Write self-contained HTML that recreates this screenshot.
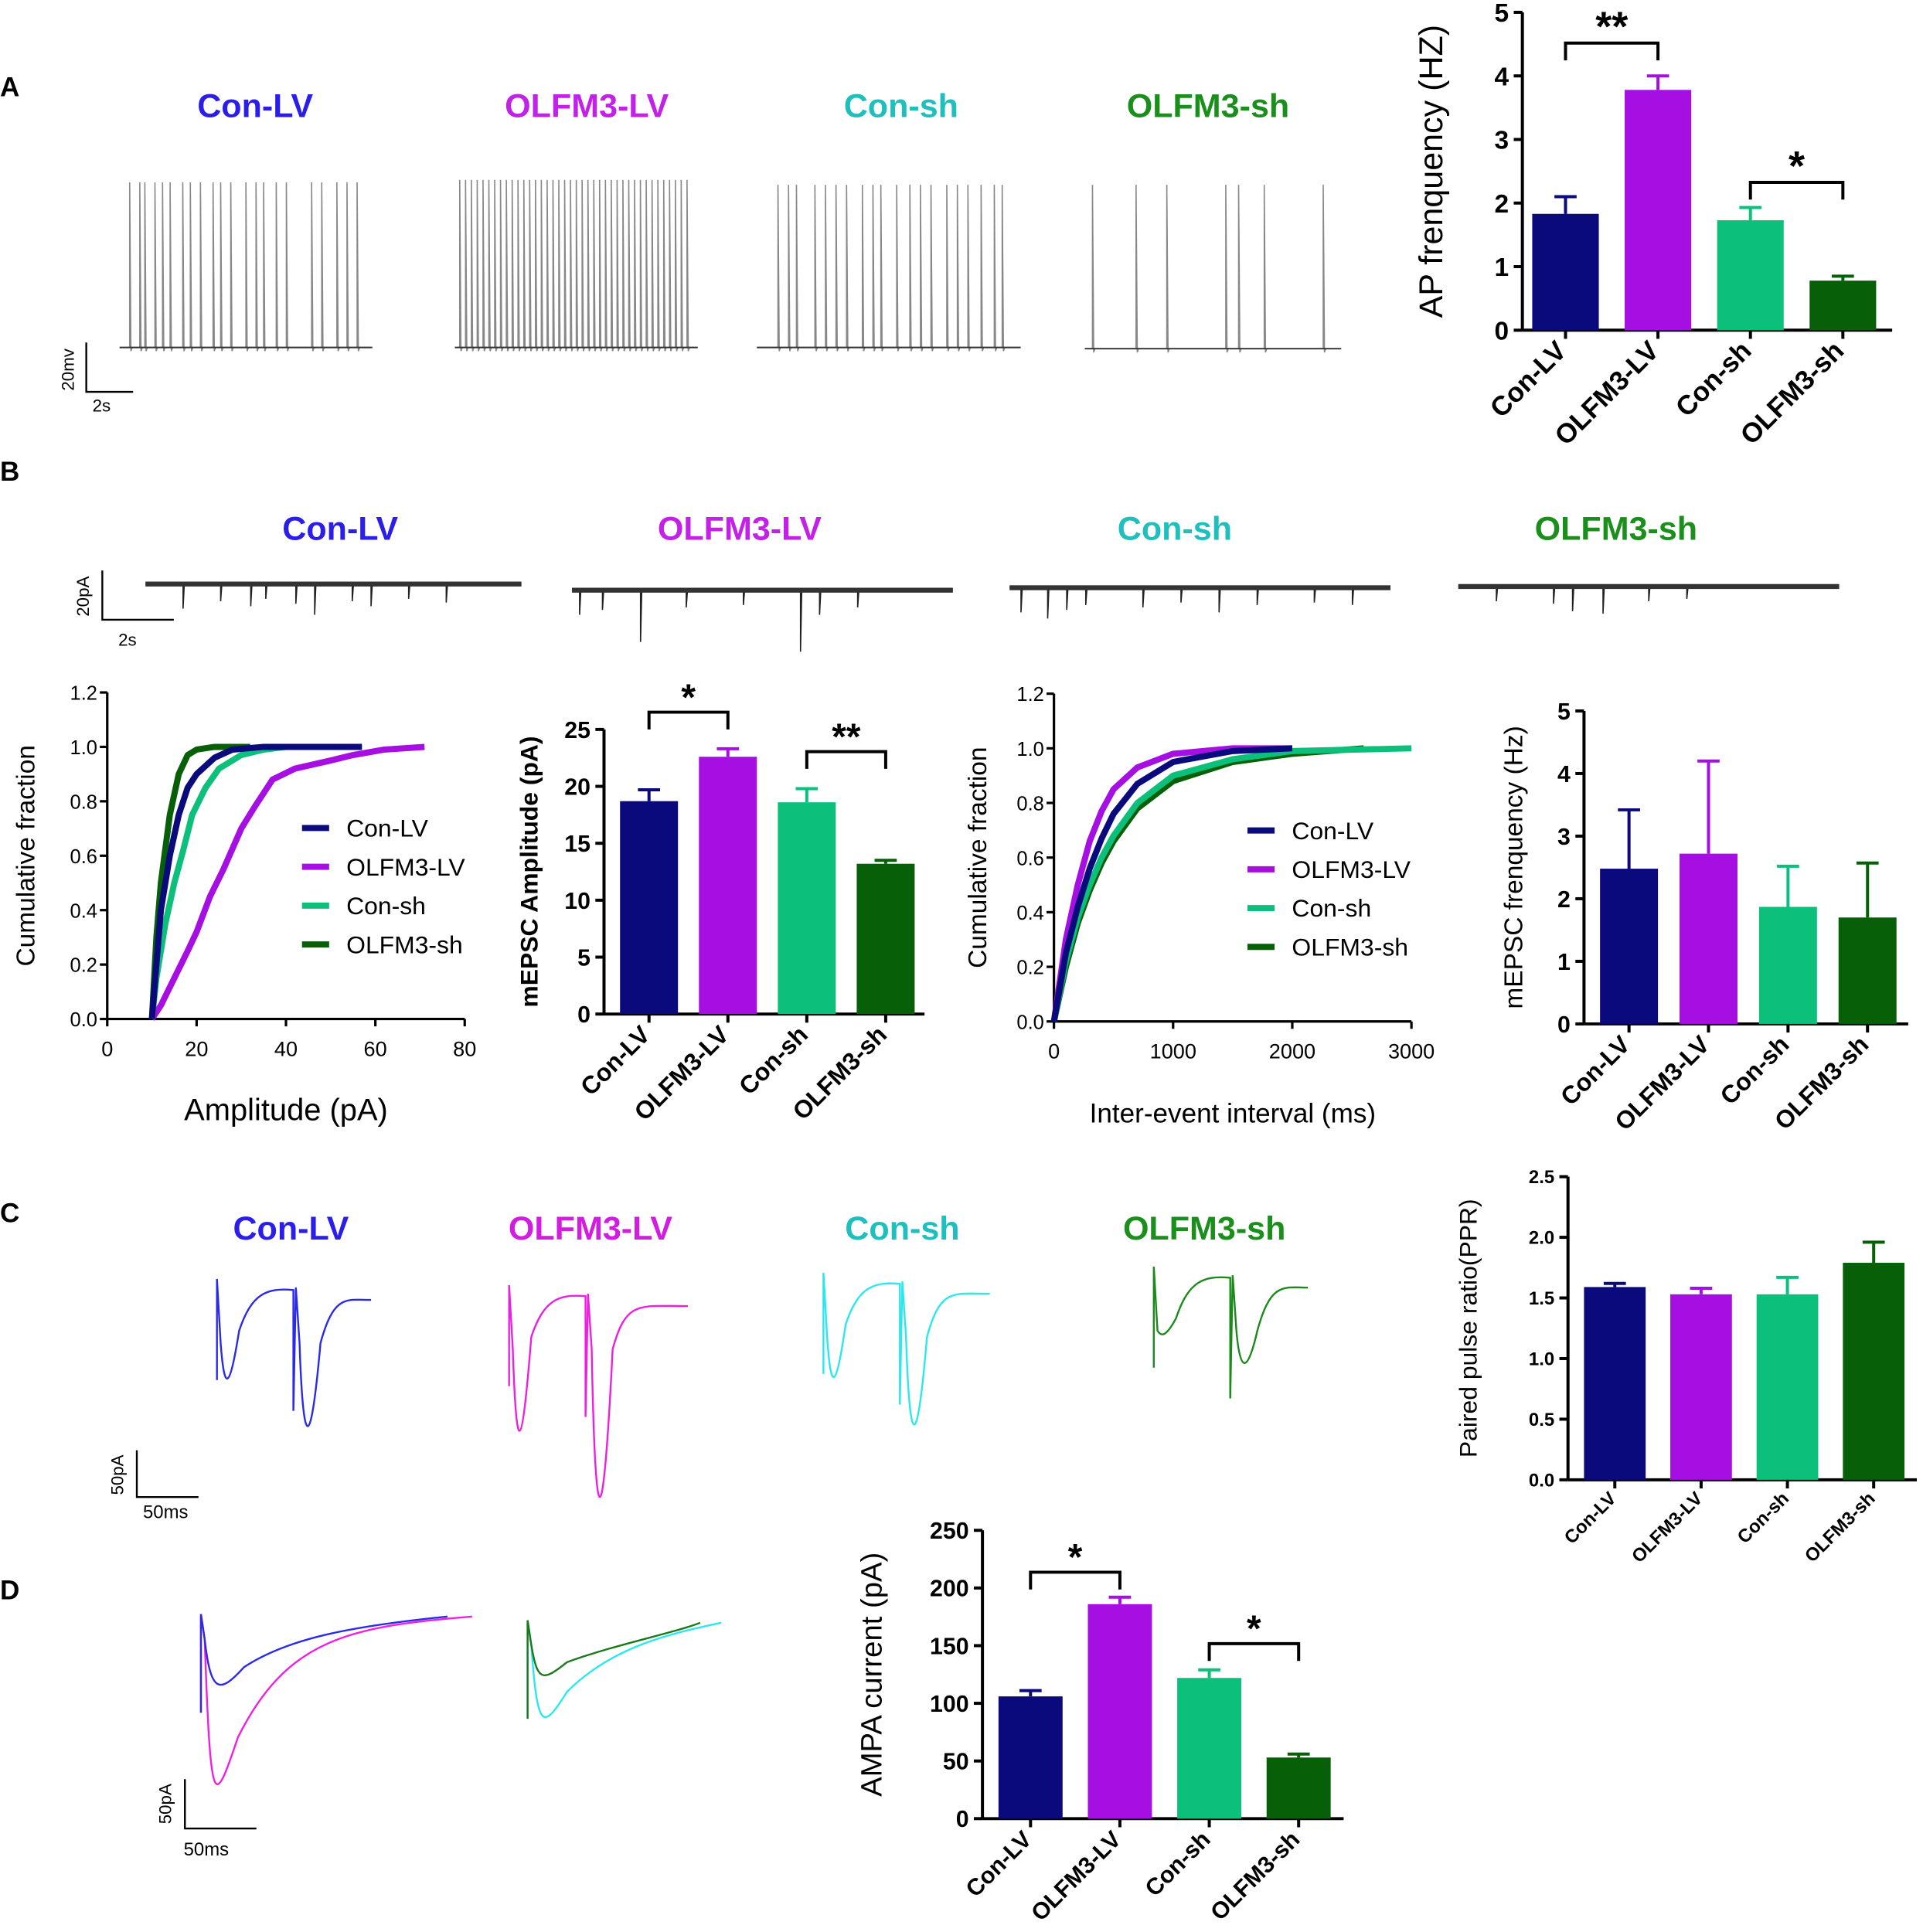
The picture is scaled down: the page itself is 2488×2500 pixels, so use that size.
<!DOCTYPE html>
<html><head><meta charset="utf-8"><style>
html,body{margin:0;padding:0;background:#fff;}
svg{display:block;font-family:"Liberation Sans",sans-serif;}
</style></head><body>
<svg id="fig" width="2488" height="2500" viewBox="0 0 1560 1568" preserveAspectRatio="none" xmlns="http://www.w3.org/2000/svg"></svg>
<script>
// ---- data ----
const groups = ["Con-LV","OLFM3-LV","Con-sh","OLFM3-sh"];
const colors = ["#0a0a7c","#a60fe2","#0cc07c","#075f07"];
const apFreq = [1.83,3.78,1.73,0.78];
const apFreqErr = [2.1,4.0,1.93,0.85];
const ampVals = [18.7,22.6,18.6,13.2];
const ampErr = [19.7,23.3,19.8,13.5];
const mFreqVals = [2.48,2.72,1.87,1.7];
const mFreqErr = [3.42,4.2,2.52,2.57];
const pprVals = [1.59,1.53,1.53,1.79];
const pprErr = [1.62,1.58,1.67,1.96];
const ampaVals = [106,186,122,53];
const ampaErr = [111,192,129,56];
const cumAmp = [
 [[10,0],[11,0.2],[12,0.4],[14,0.6],[16,0.75],[18,0.85],[20,0.9],[24,0.96],[28,0.99],[35,1],[57,1]],
 [[10,0],[12,0.05],[15,0.15],[18,0.25],[20,0.32],[23,0.45],[26,0.55],[30,0.7],[33,0.78],[37,0.88],[42,0.92],[50,0.95],[55,0.97],[62,0.99],[71,1]],
 [[10,0],[11,0.15],[13,0.35],[15,0.5],[17,0.62],[19,0.75],[22,0.85],[25,0.92],[30,0.97],[35,0.99],[40,1],[52,1]],
 [[10,0],[11,0.3],[12,0.5],[14,0.75],[16,0.9],[18,0.97],[20,0.99],[24,1],[32,1]]
];
const cumInt = [
 [[0,0],[100,0.25],[200,0.42],[300,0.56],[400,0.67],[500,0.76],[700,0.87],[1000,0.95],[1500,0.99],[2000,1]],
 [[0,0],[100,0.3],[200,0.5],[300,0.66],[400,0.77],[500,0.85],[700,0.93],[1000,0.98],[1500,1],[2000,1]],
 [[0,0],[100,0.22],[200,0.38],[300,0.5],[400,0.6],[500,0.68],[700,0.8],[1000,0.9],[1500,0.96],[2000,0.99],[3000,1]],
 [[0,0],[100,0.2],[200,0.36],[300,0.48],[400,0.58],[500,0.66],[700,0.78],[1000,0.88],[1500,0.95],[2000,0.98],[2600,1]]
];
const cumTicksY = ["0.0","0.2","0.4","0.6","0.8","1.0","1.2"];

// ---- helpers ----
const NS="http://www.w3.org/2000/svg";
const svg=document.getElementById('fig');
function el(tag,attrs,parent,txt){const e=document.createElementNS(NS,tag);for(const k in attrs)e.setAttribute(k,attrs[k]);if(txt!==undefined)e.textContent=txt;(parent||svg).appendChild(e);return e;}
function txt(x,y,s,size,opts,name){opts=opts||{};const e=el('text',Object.assign({x:x,y:y,'font-size':size,fill:opts.fill||'#000','font-weight':opts.bold?'bold':'normal','text-anchor':opts.anchor||'start'},opts.tr?{transform:opts.tr}:{}),null,s);

return e;}

function barChart(cfg){
 const g=el('g',{});
 
 
 const ys=v=>cfg.y0-(v/cfg.max)*(cfg.y0-cfg.yTop);
 const ax=el('line',{x1:cfg.ax,y1:cfg.yTop,x2:cfg.ax,y2:cfg.y0,stroke:'#000','stroke-width':2.5},g);
 
 const xa=el('line',{x1:cfg.ax,y1:cfg.y0,x2:cfg.xEnd,y2:cfg.y0,stroke:'#000','stroke-width':2.5},g);
 
 cfg.ticks.forEach(t=>{const y=ys(t);el('line',{x1:cfg.ax-7,y1:y,x2:cfg.ax,y2:y,stroke:'#000','stroke-width':2.5},g);
  txt(cfg.ax-11,y+cfg.fs*0.36,cfg.tickFmt?cfg.tickFmt(t):String(t),cfg.fs,{anchor:'end',bold:true},'y-tick-label');});
 cfg.vals.forEach((v,i)=>{const x=cfg.x0+i*cfg.step,cx=x+cfg.bw/2;
  const b=el('rect',{x:x,y:ys(v),width:cfg.bw,height:cfg.y0-ys(v),fill:colors[i]},g);
  
  
  const ey=ys(cfg.err[i]);
  el('line',{x1:cx,y1:ey,x2:cx,y2:ys(v),stroke:colors[i],'stroke-width':2.5},g);
  el('line',{x1:cx-9,y1:ey,x2:cx+9,y2:ey,stroke:colors[i],'stroke-width':2.5},g);
  el('line',{x1:cx,y1:cfg.y0,x2:cx,y2:cfg.y0+7,stroke:'#000','stroke-width':2.5},g);
  txt(cx+2,cfg.y0+cfg.lblOff,groups[i],cfg.lfs,{anchor:'end',bold:true,tr:`rotate(-45 ${cx+2} ${cfg.y0+cfg.lblOff})`,},'x-tick-label');
 });
 txt(cfg.ytx,(cfg.yTop+cfg.y0)/2,cfg.ylabel,cfg.yfs,{anchor:'middle',bold:cfg.ybold,tr:`rotate(-90 ${cfg.ytx} ${(cfg.yTop+cfg.y0)/2})`},'y-axis-title');
 (cfg.sig||[]).forEach(s=>{const xa=cfg.x0+s[0]*cfg.step+cfg.bw/2,xb=cfg.x0+s[1]*cfg.step+cfg.bw/2,yy=s[2];
  el('polyline',{points:`${xa},${yy+14} ${xa},${yy} ${xb},${yy} ${xb},${yy+14}`,fill:'none',stroke:'#000','stroke-width':2.5},g);
  txt((xa+xb)/2,yy-2,s[3],cfg.sfs||30,{anchor:'middle',bold:true},'significance-marker');});
}

function cumChart(cfg){
 const g=el('g',{});
 
 
 const xs=v=>cfg.x0+(v/cfg.xmax)*(cfg.x1-cfg.x0);
 const ys=v=>cfg.y0-(v/1.2)*(cfg.y0-cfg.yTop);
 el('line',{x1:cfg.x0,y1:cfg.yTop,x2:cfg.x0,y2:cfg.y0,stroke:'#000','stroke-width':2},g);
 el('line',{x1:cfg.x0,y1:cfg.y0,x2:cfg.x1,y2:cfg.y0,stroke:'#000','stroke-width':2},g);
 cumTicksY.forEach((l,i)=>{const y=ys(i*0.2);el('line',{x1:cfg.x0-6,y1:y,x2:cfg.x0,y2:y,stroke:'#000','stroke-width':2},g);
  txt(cfg.x0-8,y+6,l,16,{anchor:'end'},'y-tick-label');});
 cfg.xticks.forEach(t=>{const x=xs(t);el('line',{x1:x,y1:cfg.y0,x2:x,y2:cfg.y0+6,stroke:'#000','stroke-width':2},g);
  txt(x,cfg.y0+30,String(t),17,{anchor:'middle'},'x-tick-label');});
 [3,1,2,0].forEach(i=>{const pts=cfg.data[i].map(p=>xs(p[0])+','+ys(p[1])).join(' ');
  const l=el('polyline',{points:pts,fill:'none',stroke:colors[i],'stroke-width':5,'stroke-linejoin':'round'},g);
  
  });
 groups.forEach((gname,i)=>{const y=cfg.ly+i*31.5;
  el('line',{x1:cfg.lx,y1:y,x2:cfg.lx+22,y2:y,stroke:colors[i],'stroke-width':5},g);
  txt(cfg.lx+36,y+7,gname,20,{},'legend-entry');});
 txt(cfg.ytx,(cfg.yTop+cfg.y0)/2,'Cumulative fraction',21,{anchor:'middle',tr:`rotate(-90 ${cfg.ytx} ${(cfg.yTop+cfg.y0)/2})`},'y-axis-title');
 txt((cfg.x0+cfg.x1)/2,cfg.y0+82,cfg.xlabel,cfg.xfs,{anchor:'middle'},'x-axis-title');
}

// ---- panel letters & titles ----
txt(0,78,'A',22,{bold:true},'panel-label-a');
txt(0,390,'B',22,{bold:true},'panel-label-b');
txt(0,992,'C',22,{bold:true},'panel-label-c');
txt(0,1298,'D',22,{bold:true},'panel-label-d');
const titleCol=["#2b1ee8","#c320e8","#1fbfbd","#1b8f1b"];
[[207,476,731,980,95],[276,600,953,1311,438],[236,479,732,977,1006]].forEach(r=>{
 for(let i=0;i<4;i++) txt(r[i],r[4],groups[i],27,{anchor:'middle',bold:true,fill:i==1&&r[4]==1006?'#d21ce0':titleCol[i]},'group-title');
});

// ---- traces (illustrative) ----
function apTrace(x0,x1,base,spikes,top,name){
 let d=`M${x0},${base}`;spikes.forEach(f=>{const x=x0+f*(x1-x0);d+=` L${x},${base} L${x},${top} L${x+1},${base+3} L${x+2},${base}`;});d+=` L${x1},${base}`;
 const p=el('path',{d:d,fill:'none',stroke:'#888','stroke-width':1});
 
 const b=el('line',{x1:x0,y1:base,x2:x1,y2:base,stroke:'#333','stroke-width':1.2});
 }
apTrace(97,302,282,[.04,.08,.1,.14,.17,.2,.25,.28,.32,.37,.4,.44,.5,.54,.57,.62,.66,.76,.8,.86,.9,.94],148,'trace-ap-con-lv');
apTrace(369,566,282,Array.from({length:40},(_,i)=>0.02+i*0.024),146,'trace-ap-olfm3-lv');
apTrace(614,828,282,[.08,.12,.15,.22,.26,.3,.34,.4,.44,.47,.53,.58,.62,.66,.72,.76,.8,.85,.9,.93],150,'trace-ap-con-sh');
apTrace(880,1088,283,[.03,.2,.32,.55,.6,.7,.93],150,'trace-ap-olfm3-sh');
el('polyline',{points:'70,278 70,318 108,318',fill:'none',stroke:'#000','stroke-width':1.5});
txt(60,300,'20mv',14,{anchor:'middle',tr:'rotate(-90 60 300)'},'scale-label');
txt(75,334,'2s',14,{},'scale-label');
function epscTrace(x0,x1,base,ev,name){let d=`M${x0},${base}`;ev.forEach(e=>{const x=x0+e[0]*(x1-x0);d+=` L${x},${base} L${x},${base+e[1]} L${x+1},${base}`;});d+=` L${x1},${base}`;
 const p=el('path',{d:d,fill:'none',stroke:'#222','stroke-width':1});
 
 el('rect',{x:x0,y:base-2,width:x1-x0,height:4,fill:'#333'});}
epscTrace(118,423,474,[[.1,20],[.2,14],[.28,18],[.32,12],[.4,16],[.45,25],[.55,14],[.6,18],[.7,12],[.8,15]],'trace-epsc-con-lv');
epscTrace(464,773,479,[[.02,20],[.08,16],[.18,42],[.3,14],[.45,12],[.6,50],[.65,20],[.75,14]],'trace-epsc-olfm3-lv');
epscTrace(819,1128,477,[[.03,20],[.1,25],[.15,18],[.2,14],[.35,16],[.45,12],[.55,20],[.65,14],[.8,12],[.9,14]],'trace-epsc-con-sh');
epscTrace(1183,1492,476,[[.1,12],[.25,14],[.3,20],[.38,22],[.5,12],[.6,10]],'trace-epsc-olfm3-sh');
el('polyline',{points:'83,463 83,503 141,503',fill:'none',stroke:'#000','stroke-width':1.5});
txt(72,484,'20pA',14,{anchor:'middle',tr:'rotate(-90 72 484)'},'scale-label');
txt(96,524,'2s',14,{},'scale-label');
function pprTrace(x0,base,a1,a2,col,name,w){w=w||125;
 const d=`M${x0},${base+70} L${x0},${base-12} L${x0+3},${base+40} C${x0+6},${base+a1} ${x0+10},${base+a1} ${x0+18},${base+30} C${x0+28},${base} ${x0+40},${base-5} ${x0+62},${base-3} L${x0+62},${base+95} L${x0+64},${base-5} L${x0+67},${base+40} C${x0+70},${base+a2} ${x0+76},${base+a2} ${x0+84},${base+40} C${x0+95},${base} ${x0+105},${base+5} ${x0+w},${base+5}`;
 const p=el('path',{d:d,fill:'none',stroke:col,'stroke-width':1.5});
 }
pprTrace(176,1050,80,130,'#2a2ae8','trace-ppr-con-lv');
pprTrace(413,1055,130,200,'#ee20e0','trace-ppr-olfm3-lv',145);
pprTrace(668,1045,85,135,'#2ae8ee','trace-ppr-con-sh',135);
pprTrace(936,1040,45,75,'#1a8a1a','trace-ppr-olfm3-sh',125);
el('polyline',{points:'111,1177 111,1215 161,1215',fill:'none',stroke:'#000','stroke-width':1.5});
txt(100,1197,'50pA',14,{anchor:'middle',tr:'rotate(-90 100 1197)'},'scale-label');
txt(116,1232,'50ms',15,{},'scale-label');
function ampaTrace(x0,base,amp,col,name,w,tp){const d=`M${x0},${base+70} L${x0},${base-10} L${x0+3},${base+10} C${x0+8},${base+amp} ${x0+tp},${base+amp} ${x0+tp+20},${base+amp*0.6} C${x0+70},${base+10} ${x0+120},${base} ${x0+w},${base-8}`;
 const p=el('path',{d:d,fill:'none',stroke:col,'stroke-width':1.5});
 }
ampaTrace(163,1320,150,'#f020e0','trace-ampa-olfm3-lv',220,10);
ampaTrace(163,1320,55,'#2a2ae8','trace-ampa-con-lv',200,15);
ampaTrace(428,1325,80,'#2ae8ee','trace-ampa-con-sh',157,12);
ampaTrace(428,1325,40,'#1a7a1a','trace-ampa-olfm3-sh',140,12);
el('polyline',{points:'150,1444 150,1484 208,1484',fill:'none',stroke:'#000','stroke-width':1.5});
txt(139,1464,'50pA',14,{anchor:'middle',tr:'rotate(-90 139 1464)'},'scale-label');
txt(149,1506,'50ms',15,{},'scale-label');

// ---- charts ----
barChart({name:'ap-frequency-chart',ax:1235,xEnd:1535,yTop:10,y0:268,max:5,ticks:[0,1,2,3,4,5],fs:21,vals:apFreq,err:apFreqErr,x0:1243,step:75,bw:54,lblOff:18,lfs:22,ytx:1170,ylabel:'AP frenquency (HZ)',yfs:27,sig:[[0,1,35,'**'],[2,3,148,'*']],sfs:34});
barChart({name:'mepsc-amplitude-chart',ax:490,xEnd:750,yTop:592,y0:823,max:25,ticks:[0,5,10,15,20,25],fs:19,vals:ampVals,err:ampErr,x0:503,step:64,bw:47,lblOff:18,lfs:20,ytx:436,ylabel:'mEPSC Amplitude (pA)',yfs:20,ybold:true,sig:[[0,1,578,'*'],[2,3,610,'**']],sfs:30});
barChart({name:'mepsc-frequency-chart',ax:1285,xEnd:1548,yTop:577,y0:831,max:5,ticks:[0,1,2,3,4,5],fs:19,vals:mFreqVals,err:mFreqErr,x0:1298,step:64.5,bw:47,lblOff:18,lfs:20,ytx:1235,ylabel:'mEPSC frenquency (Hz)',yfs:21});
barChart({name:'ppr-chart',ax:1272,xEnd:1555,yTop:955,y0:1201,max:2.5,ticks:[0,0.5,1,1.5,2,2.5],tickFmt:t=>t.toFixed(1),fs:15,vals:pprVals,err:pprErr,x0:1285,step:70,bw:50,lblOff:16,lfs:15,ytx:1198,ylabel:'Paired pulse ratio(PPR)',yfs:20});
barChart({name:'ampa-current-chart',ax:797,xEnd:1090,yTop:1242,y0:1476,max:250,ticks:[0,50,100,150,200,250],fs:19,vals:ampaVals,err:ampaErr,x0:810,step:72.5,bw:52,lblOff:18,lfs:19,ytx:715,ylabel:'AMPA current (pA)',yfs:24,sig:[[0,1,1276,'*'],[2,3,1334,'*']],sfs:30});
cumChart({name:'amplitude-cumulative-chart',x0:87,x1:377,xmax:80,yTop:562,y0:827,data:cumAmp,xticks:[0,20,40,60,80],lx:245,ly:672,ytx:28,xlabel:'Amplitude  (pA)',xfs:25});
cumChart({name:'interval-cumulative-chart',x0:855,x1:1145,xmax:3000,yTop:563,y0:829,data:cumInt,xticks:[0,1000,2000,3000],lx:1012,ly:674,ytx:800,xlabel:'Inter-event interval (ms)',xfs:22});
</script>
</body></html>
